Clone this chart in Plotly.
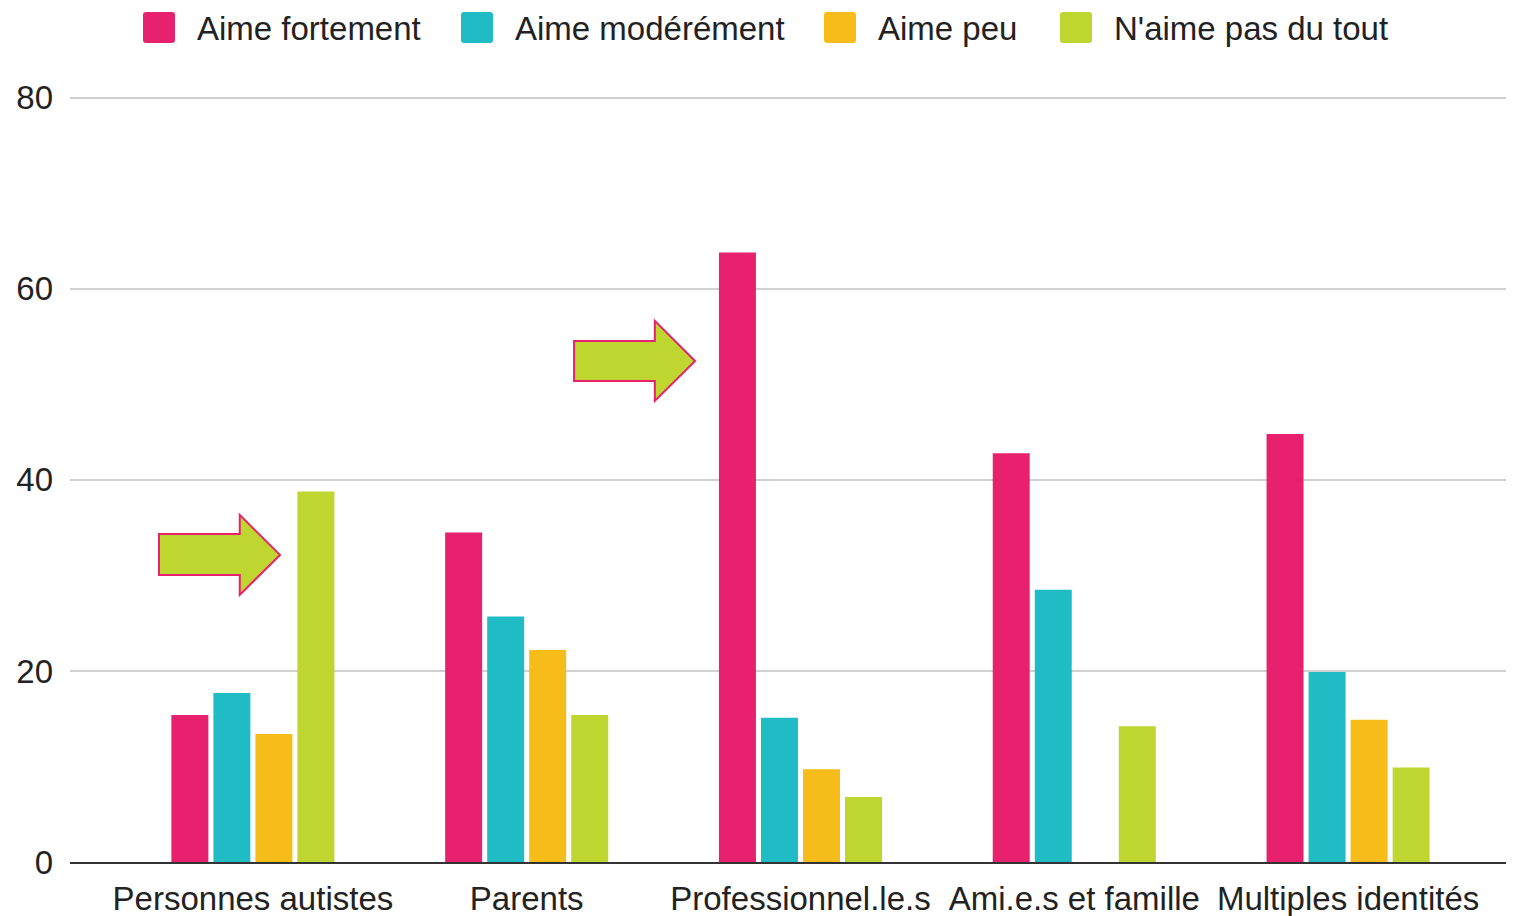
import plotly.graph_objects as go

categories = ["Personnes autistes", "Parents", "Professionnel.le.s", "Ami.e.s et famille", "Multiples identités"]
series_names = ["Aime fortement", "Aime modérément", "Aime peu", "N'aime pas du tout"]
aime_fortement = [15.4, 34.5, 63.8, 42.8, 44.8]
aime_moderement = [17.7, 25.7, 15.1, 28.5, 19.9]
aime_peu = [13.4, 22.2, 9.7, 0, 14.9]
naime_pas = [38.8, 15.4, 6.8, 14.2, 9.9]
colors = ["#E8216F", "#1FBCC6", "#F6BD1A", "#BFD530"]

FONT = "Liberation Sans, Arial, sans-serif"
FS = 33

# page body has an 8px margin, so the figure is a bit smaller than the window
W, H = 1506, 908
OFF = 8
# plot area in page pixels
PX0, PX1, PY0, PY1 = 70, 1514, 95, 862


def px(x):
    return (x - PX0) / (PX1 - PX0)


def py(y):
    return (PY1 - y) / (PY1 - PY0)


fig = go.Figure()
for name, vals, col in zip(series_names, [aime_fortement, aime_moderement, aime_peu, naime_pas], colors):
    fig.add_trace(go.Bar(x=categories, y=vals, name=name, marker=dict(color=col, line=dict(width=0)),
                         showlegend=False))

# manual legend with big rounded squares
legend_x = [143, 461, 824, 1060]
shapes = []
annotations = []
for name, col, lx in zip(series_names, colors, legend_x):
    x0, x1, y0, y1 = lx, lx + 32, 12, 43
    r = 3
    path = (f"M {px(x0 + r)},{py(y0)} L {px(x1 - r)},{py(y0)} Q {px(x1)},{py(y0)} {px(x1)},{py(y0 + r)} "
            f"L {px(x1)},{py(y1 - r)} Q {px(x1)},{py(y1)} {px(x1 - r)},{py(y1)} "
            f"L {px(x0 + r)},{py(y1)} Q {px(x0)},{py(y1)} {px(x0)},{py(y1 - r)} "
            f"L {px(x0)},{py(y0 + r)} Q {px(x0)},{py(y0)} {px(x0 + r)},{py(y0)} Z")
    shapes.append(dict(type="path", xref="paper", yref="paper", path=path,
                       fillcolor=col, line=dict(width=0), layer="above"))
    annotations.append(dict(text=name, xref="paper", yref="paper", x=px(lx + 52), y=py(28),
                            xanchor="left", yanchor="middle", showarrow=False,
                            font=dict(size=FS, color="#222", family=FONT)))


def arrow(xl, xm, xt, yb0, yb1, yh0, yh1, ym):
    return (f"M {xl},{yb0} L {xm},{yb0} L {xm},{yh0} L {xt},{ym} "
            f"L {xm},{yh1} L {xm},{yb1} L {xl},{yb1} Z")


# callout arrows pointing at the highlighted bars
for p in [arrow(-0.343, -0.048, 0.099, 30.05, 34.35, 27.96, 36.34, 32.15),
          arrow(1.173, 1.468, 1.615, 50.37, 54.55, 48.27, 56.65, 52.46)]:
    shapes.append(dict(type="path", xref="x", yref="y", path=p, fillcolor="#BFD530",
                       line=dict(color="#E8216F", width=2), layer="above"))

fig.update_layout(
    width=W, height=H,
    margin=dict(l=PX0 - OFF, r=W + OFF - PX1, t=PY0 - OFF, b=H + OFF - PY1),
    paper_bgcolor="white", plot_bgcolor="white",
    barmode="group", bargap=0.386, bargroupgap=0.12,
    font=dict(family=FONT, size=FS, color="#222"),
    shapes=shapes, annotations=annotations,
    showlegend=False,
)
fig.update_xaxes(range=[-0.668, 4.606], showgrid=False, showline=True, linecolor="#333", linewidth=2,
                 ticks="", ticklabelstandoff=6, tickfont=dict(size=FS, color="#222", family=FONT))
fig.update_yaxes(range=[0, 80.3], tickvals=[0, 20, 40, 60, 80], showgrid=True, gridcolor="#D0D0D0",
                 gridwidth=2, zeroline=False, ticks="", ticklabelstandoff=16,
                 tickfont=dict(size=FS, color="#222", family=FONT))

fig.write_html("out.html")
